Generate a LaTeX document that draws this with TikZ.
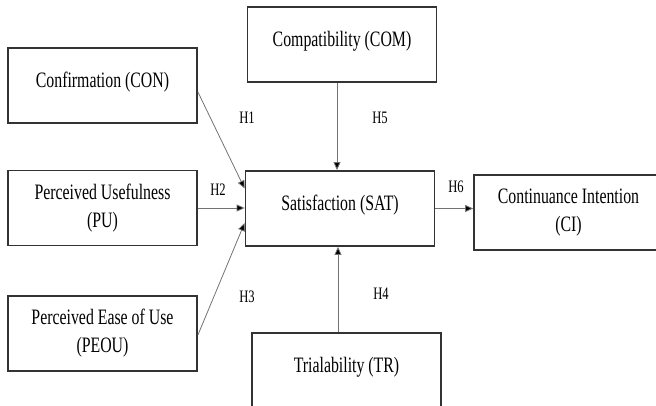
\documentclass[tikz,border=0pt]{standalone}
\usepackage{fontspec}
\setmainfont{Liberation Serif}[FakeStretch=0.72]
\usepackage{tikz}
\usetikzlibrary{arrows.meta}
\newcommand{\BoxFont}{\fontsize{22}{28}\selectfont}
\newcommand{\HypFont}{\fontsize{17.5}{20}\selectfont}

\begin{document}
\begin{tikzpicture}[x=1pt, y=-1pt,
    construct/.style={draw=black!80, line width=1.8pt, minimum width=189pt,
      minimum height=75pt, inner sep=0pt, align=center, font=\BoxFont},
    oneline/.style={text depth=11pt},
    path/.style={draw=black!55, line width=0.8pt,
      -{Triangle[length=8pt, width=7pt, fill=black]}},
    hyp/.style={font=\HypFont, inner sep=0pt}]
    \useasboundingbox (0,0) rectangle (656,406);
    \clip (0,0) rectangle (656,406);
    % constructs
    \node[construct, oneline] (CON)  at (102.5,85.5)  {Confirmation (CON)};
    \node[construct, oneline] (COM)  at (342,44.5)    {Compatibility (COM)};
    \node[construct]          (PU)   at (102.5,208)   {Perceived Usefulness\\(PU)};
    \node[construct, oneline] (SAT)  at (340,208.5)   {Satisfaction (SAT)};
    \node[construct]          (PEOU) at (102.5,333.5) {Perceived Ease of Use\\(PEOU)};
    \node[construct, oneline] (TR)   at (346.5,370.5) {Trialability (TR)};
    \node[construct]          (CI)   at (568.5,212.5) {Continuance Intention\\(CI)};
    % hypotheses
    \coordinate (satTop) at ([xshift=-3pt]SAT.north);
    \coordinate (satBot) at ([xshift=-2pt]SAT.south);
    \draw[path] ([yshift=-6.5pt]CON.east) -- ([yshift=20pt]SAT.west);
    \draw[path] (PU.east) -- (PU.east -| SAT.west);
    \draw[path] ([yshift=-1.5pt]PEOU.east) -- ([yshift=-14.5pt]SAT.west);
    \draw[path] (COM.south -| satTop) -- (satTop);
    \draw[path] (TR.north -| satBot) -- (satBot);
    \draw[path] (SAT.east) -- (SAT.east -| CI.west);
    \node[hyp] (h1) at (247,118) {H1};
    \node[hyp] (h2) at (218,190) {H2};
    \node[hyp] (h3) at (247,297) {H3};
    \node[hyp] (h4) at (381,294) {H4};
    \node[hyp] (h5) at (380,118) {H5};
    \node[hyp] (h6) at (456,187) {H6};
\end{tikzpicture}
\end{document}
